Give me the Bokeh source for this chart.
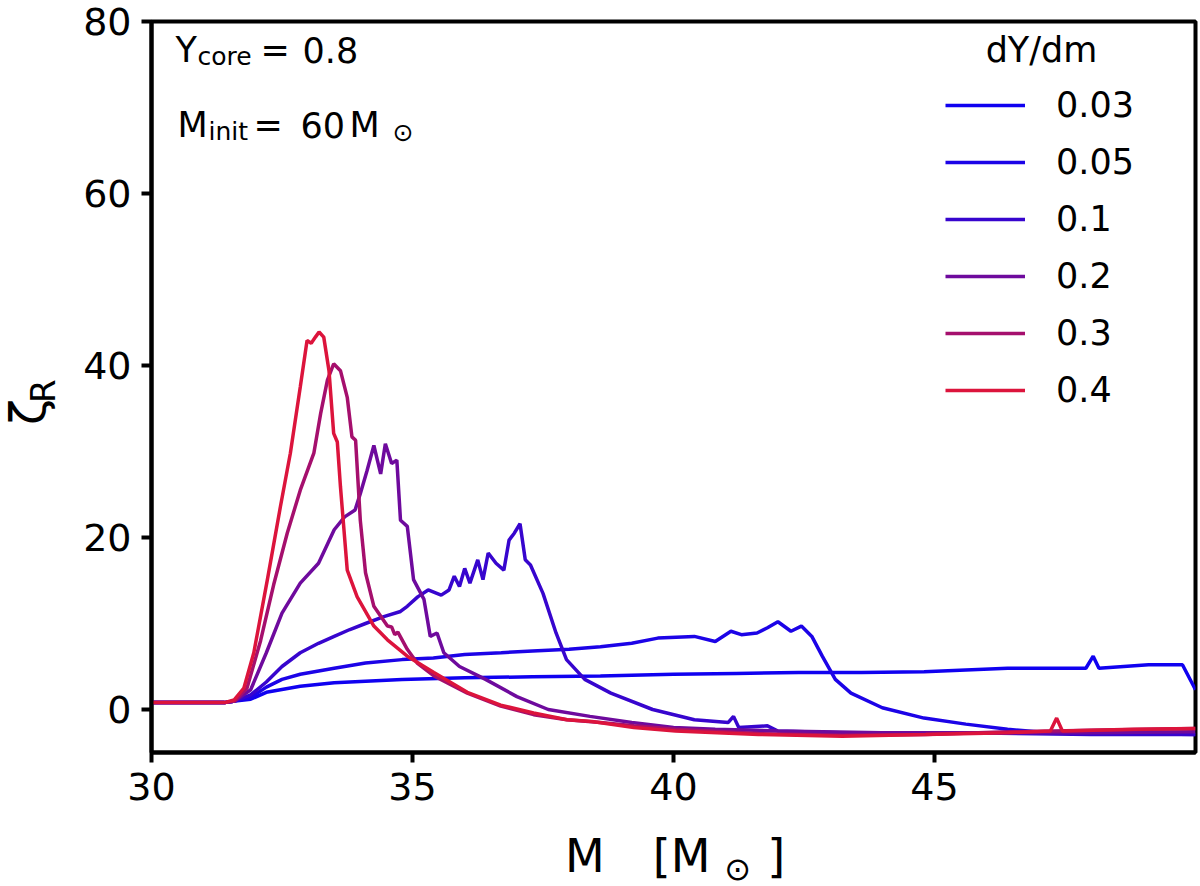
import numpy as np
from bokeh.plotting import figure
from bokeh.models import Label, Legend, LegendItem, FixedTicker, Range1d, Div
from bokeh.layouts import row, column
from bokeh.embed import file_html
from bokeh.resources import INLINE

# dY/dm values and line colours (blue -> crimson)
dydm_labels = ["0.03", "0.05", "0.1", "0.2", "0.3", "0.4"]
line_colors = ["#1001f0", "#1c03e7", "#3705ce", "#6e0a9d", "#a50f6d", "#dc143c"]

# zeta_R against mass coordinate M
m_003 = [30.0, 31.4, 31.6, 31.9, 32.2, 32.85, 33.5, 34.8, 36.0, 37.3, 38.6, 40.0,
         41.2, 42.4, 43.6, 44.8, 45.6, 46.4, 47.9, 48.04, 48.15, 49.1, 49.75, 50.0]
z_003 = [0.8, 0.8, 1.0, 1.2, 2.0, 2.7, 3.1, 3.5, 3.7, 3.8, 3.9, 4.1,
         4.2, 4.3, 4.3, 4.4, 4.6, 4.8, 4.8, 6.2, 4.8, 5.2, 5.2, 2.3]

m_005 = [30.0, 31.4, 31.6, 31.9, 32.2, 32.5, 32.85, 33.5, 34.1, 34.8, 35.4, 36.0,
         36.7, 37.3, 38.0, 38.6, 39.2, 39.7, 40.4, 40.8, 41.1, 41.3, 41.6, 41.8,
         42.0, 42.25, 42.45, 42.65, 42.85, 43.1, 43.4, 44.0, 44.8, 45.6, 46.4, 47.2,
         48.8, 50.0]
z_005 = [0.8, 0.8, 1.0, 1.4, 2.6, 3.5, 4.1, 4.8, 5.4, 5.8, 6.0, 6.4,
         6.6, 6.8, 7.0, 7.3, 7.7, 8.3, 8.5, 7.9, 9.1, 8.7, 8.9, 9.5,
         10.2, 9.1, 9.7, 8.5, 6.2, 3.5, 1.9, 0.2, -1.0, -1.7, -2.3, -2.7,
         -2.8, -2.9]

m_01 = [30.0, 31.4, 31.6, 31.9, 32.2, 32.5, 32.85, 33.2, 33.5, 33.8, 34.1, 34.45,
        34.77, 34.9, 35.1, 35.3, 35.55, 35.7, 35.8, 35.9, 36.0, 36.1, 36.25, 36.35,
        36.45, 36.6, 36.75, 36.85, 36.95, 37.06, 37.16, 37.26, 37.5, 37.75, 37.95, 38.3,
        38.8, 39.6, 40.4, 41.05, 41.15, 41.25, 41.8, 42.0, 43.2, 45.6, 48.0, 50.0]
z_01 = [0.8, 0.8, 1.0, 1.7, 3.2, 5.0, 6.6, 7.7, 8.5, 9.3, 10.0, 10.8,
        11.4, 12.0, 13.1, 13.9, 13.3, 13.9, 15.5, 14.3, 16.4, 14.7, 17.4, 15.1,
        18.2, 17.0, 16.2, 19.7, 20.5, 21.6, 17.4, 16.8, 13.5, 8.9, 5.8, 3.5,
        1.9, 0.0, -1.2, -1.5, -0.8, -2.1, -1.9, -2.5, -2.7, -2.7, -2.9, -2.9]

m_02 = [30.0, 31.4, 31.6, 31.9, 32.2, 32.5, 32.85, 33.2, 33.5, 33.7, 33.9, 34.0,
        34.13, 34.26, 34.39, 34.48, 34.6, 34.7, 34.77, 34.9, 35.02, 35.22, 35.34, 35.47,
        35.6, 35.9, 36.4, 37.0, 37.6, 38.4, 39.2, 40.0, 40.8, 42.0, 44.0, 46.0,
        48.0, 50.0]
z_02 = [0.8, 0.8, 1.0, 2.3, 6.6, 11.2, 14.7, 17.0, 20.9, 22.4, 23.2, 25.1,
        27.8, 30.7, 27.4, 30.9, 28.6, 29.0, 22.0, 21.3, 15.1, 12.8, 8.5, 8.9,
        6.6, 5.0, 3.5, 1.5, 0.0, -0.8, -1.5, -2.1, -2.3, -2.5, -2.7, -2.7,
        -2.7, -2.6]

m_03 = [30.0, 31.4, 31.6, 31.83, 32.09, 32.34, 32.6, 32.85, 33.11, 33.24, 33.37, 33.49,
        33.62, 33.75, 33.84, 33.91, 34.0, 34.1, 34.26, 34.52, 34.6, 34.66, 34.72, 34.9,
        35.09, 35.41, 36.05, 36.69, 37.32, 37.96, 38.6, 39.24, 40.04, 41.63, 43.23, 44.83,
        46.42, 48.0, 50.0]
z_03 = [0.8, 0.8, 1.0, 2.5, 8.0, 14.5, 20.5, 25.5, 29.8, 34.4, 38.3, 40.2,
        39.4, 36.3, 31.7, 31.3, 22.0, 15.9, 12.0, 9.7, 9.6, 8.7, 9.0, 7.0,
        5.4, 3.9, 1.9, 0.4, -0.6, -1.2, -1.5, -1.9, -2.3, -2.8, -3.0, -2.9,
        -2.6, -2.4, -2.2]

m_04 = [30.0, 31.4, 31.58, 31.77, 31.96, 32.22, 32.47, 32.66, 32.85, 32.98, 33.06, 33.14,
        33.21, 33.3, 33.4, 33.49, 33.56, 33.62, 33.75, 33.94, 34.26, 34.52, 34.9, 35.41,
        36.05, 36.69, 37.32, 37.96, 38.44, 39.24, 40.04, 41.63, 43.23, 44.83, 46.42, 47.22,
        47.34, 47.45, 48.82, 50.0]
z_04 = [0.8, 0.8, 1.1, 2.5, 6.6, 15.1, 23.6, 29.8, 37.5, 42.9, 42.6, 43.3,
        43.9, 43.3, 39.4, 32.1, 31.1, 25.9, 16.2, 13.1, 9.7, 8.1, 6.2, 4.3,
        2.0, 0.5, -0.4, -1.2, -1.4, -2.1, -2.5, -2.9, -3.1, -2.9, -2.7, -2.5,
        -1.0, -2.5, -2.3, -2.2]

x_ticks = [30, 35, 40, 45]
y_ticks = [0, 20, 40, 60, 80]

FONT = "DejaVu Sans"

p = figure(width=1140, height=822, x_range=Range1d(30, 50), y_range=Range1d(-5, 80),
           output_backend="svg", toolbar_location=None,
           min_border_left=91, min_border_right=5, min_border_top=21, min_border_bottom=70)
p.grid.visible = False
p.background_fill_color = "white"
p.border_fill_color = "white"
p.outline_line_color = "black"
p.outline_line_width = 4
p.outline_line_alpha = 1

p.xaxis.ticker = FixedTicker(ticks=x_ticks)
p.yaxis.ticker = FixedTicker(ticks=y_ticks)
for ax in (p.xaxis, p.yaxis):
    ax.axis_line_width = 4
    ax.axis_line_color = "black"
    ax.major_tick_out = 10
    ax.major_tick_in = 0
    ax.major_tick_line_width = 4
    ax.major_tick_line_color = "black"
    ax.minor_tick_line_color = None
    ax.major_label_text_font = FONT
    ax.major_label_text_font_size = "38px"
    ax.major_label_text_color = "black"
    ax.major_label_standoff = 10

series = [(m_003, z_003), (m_005, z_005), (m_01, z_01), (m_02, z_02), (m_03, z_03), (m_04, z_04)]
items = []
for (mx, zy), lab, col in zip(series, dydm_labels, line_colors):
    r = p.line(mx, zy, line_color=col, line_width=3.5)
    items.append(LegendItem(label=lab, renderers=[r]))

legend = Legend(items=items, location=(784, 332), glyph_width=80, glyph_height=40,
                label_height=40, spacing=17, padding=10, label_standoff=31, margin=0,
                label_text_font=FONT, label_text_font_size="35px", label_text_color="black",
                border_line_alpha=0, background_fill_alpha=0)
p.add_layout(legend)


def lab(text, x, y, size, align="left"):
    p.add_layout(Label(x=x, y=y, x_units="screen", y_units="screen", text=text,
                       text_font=FONT, text_font_size=size, text_color="black",
                       text_align=align, text_baseline="alphabetic"))


# legend title
lab("dY/dm", 890, 703, "35px", align="center")

# annotations top-left
lab("Y", 24, 703, "35px")
lab("core", 46, 696, "25px")
lab("=", 109, 703, "35px")
lab("0.8", 151, 703, "35px")
lab("M", 26, 628, "35px")
lab("init", 57, 621, "25px")
lab("=", 102, 628, "35px")
lab("60", 149, 628, "35px")
lab("M", 198, 628, "35px")
lab("\u2299", 241, 620, "25px")

# axis titles as html, so that the subscripts can be kept
css_font = "font-family:'DejaVu Sans';color:black;white-space:nowrap;"
ylabel = Div(width=60, height=822, margin=0, text=(
    '<div style="position:relative;width:60px;height:822px;">'
    '<span style="position:absolute;left:4px;top:425px;transform-origin:0 0;'
    'transform:rotate(-90deg);font-size:48px;line-height:48px;' + css_font + '">'
    '\u03b6<span style="font-size:34px;position:relative;top:10px;margin-left:-4px;">R</span>'
    '</span></div>'))

xlabel = Div(width=1200, height=62, margin=0, text=(
    '<div style="position:relative;width:1200px;height:62px;">'
    '<span style="position:absolute;left:565px;top:11px;font-size:46px;line-height:46px;'
    + css_font + '">M<span style="margin-left:48px;">[M</span>'
    '<span style="font-size:32px;position:relative;top:8px;margin-left:14px;">\u2299</span>'
    '<span style="margin-left:16px;">]</span></span></div>'))

page = column(row(ylabel, p), xlabel)

open("out.html", "w").write(file_html(page, INLINE))
